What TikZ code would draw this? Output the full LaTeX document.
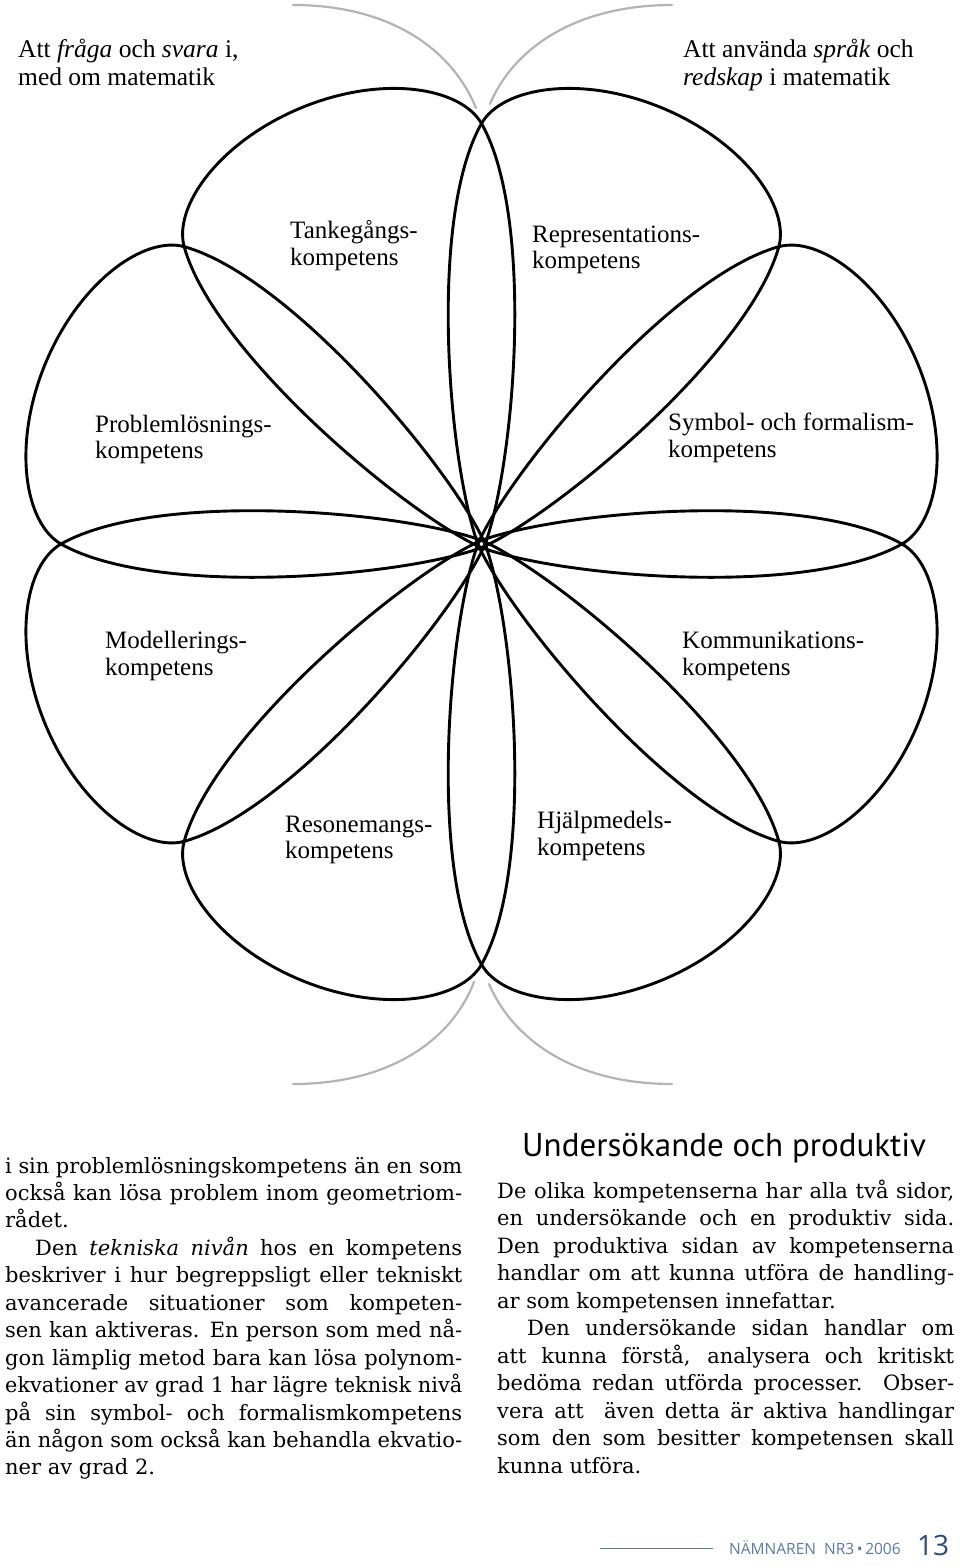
\documentclass[tikz,border=0pt]{standalone}
\usepackage{graphicx}
\usepackage{fontspec}
\setmainfont{Liberation Serif}
\newfontfamily\bodyfont{DejaVu Serif}
\newfontfamily\headfont{PT Sans}
\newfontfamily\footfont{Open Sans}
\definecolor{footblue}{HTML}{5B79A8}
\definecolor{pageblue}{HTML}{2E4A78}
\definecolor{framegray}{HTML}{B4B4B4}
\newsavebox\jlbox
\newcommand\jl[2]{\sbox\jlbox{#2}\ifdim\wd\jlbox>#1\relax\resizebox{#1}{\height}{\usebox\jlbox}\else\makebox[#1][s]{#2}\fi}
\begin{document}
\begin{tikzpicture}[x=1pt,y=-1pt,
  petal/.style={draw=black,line width=2.9pt,line join=round},
  framearc/.style={draw=framegray,line width=2.2pt,line cap=round},
  lab/.style={anchor=base west,inner sep=0pt,font=\fontsize{25}{28}\selectfont},
  corner/.style={anchor=base west,inner sep=0pt,font=\fontsize{25.5}{28}\selectfont},
  body/.style={anchor=base west,inner sep=0pt,font=\bodyfont\fontsize{21}{27}\selectfont},
  head/.style={anchor=base west,inner sep=0pt,font=\headfont\fontsize{33}{36}\selectfont},
  foot/.style={anchor=base west,inner sep=0pt,text=footblue,font=\footfont\fontsize{15.5}{18}\selectfont},
  pagenum/.style={anchor=base west,inner sep=0pt,text=pageblue,font=\footfont\fontsize{28}{30}\selectfont},
  footline/.style={draw=footblue,line width=1pt}]
\useasboundingbox (0,0) rectangle (960,1568);
\fill[white] (0,0) rectangle (960,1568);

% frame arcs
\draw[framearc] (293,5) .. controls (385,5) and (450,45) .. (476,108);
\draw[framearc] (672,5) .. controls (580,5) and (515,45) .. (490,104);
\draw[framearc] (293,1084) .. controls (385,1084) and (450,1044) .. (474,982);
\draw[framearc] (672,1084) .. controls (580,1084) and (515,1044) .. (489,984);

% petals
\foreach \a in {22.5,67.5,...,337.5}{
  \draw[petal,shift={(481.5,544)},rotate=\a]
    (-5,0) .. controls (55,-58) and (278,-174) .. (388,-161)
          .. controls (430,-156) and (472,-88) .. (472,0)
          .. controls (472,88) and (430,156) .. (388,161)
          .. controls (278,174) and (55,58) .. (-5,0) -- cycle;
}

% corner texts
\node[corner] (c1a) at (18,58) {Att \textit{fråga} och \textit{svara} i,};
\node[corner] (c1b) at (18,86) {med om matematik};
\node[corner] (c2a) at (683,58) {Att använda \textit{språk} och};
\node[corner] (c2b) at (683,86) {\textit{redskap} i matematik};

% petal labels
\node[lab] (l1a) at (290,238) {Tankegångs-};
\node[lab] (l1b) at (290,265) {kompetens};
\node[lab] (l2a) at (532,242) {Representations-};
\node[lab] (l2b) at (532,268) {kompetens};
\node[lab] (l3a) at (95,432) {Problemlösnings-};
\node[lab] (l3b) at (95,458) {kompetens};
\node[lab] (l4a) at (668,430) {Symbol- och formalism-};
\node[lab] (l4b) at (668,457) {kompetens};
\node[lab] (l5a) at (105,648) {Modellerings-};
\node[lab] (l5b) at (105,675) {kompetens};
\node[lab] (l6a) at (682,648) {Kommunikations-};
\node[lab] (l6b) at (682,675) {kompetens};
\node[lab] (l7a) at (285,832) {Resonemangs-};
\node[lab] (l7b) at (285,858) {kompetens};
\node[lab] (l8a) at (537,828) {Hjälpmedels-};
\node[lab] (l8b) at (537,855) {kompetens};

% left column
\node[body] (a0) at (5,1173) {\jl{457pt}{i sin problemlösningskompetens än en som}};
\node[body] (a1) at (5,1200.45) {\jl{457pt}{också kan lösa problem inom geometriom-}};
\node[body] (a2) at (5,1227.9) {rådet.};
\node[body] (a3) at (35,1255.35) {\jl{427pt}{Den \textit{tekniska nivån} hos en kompetens}};
\node[body] (a4) at (5,1282.8) {\jl{457pt}{beskriver i hur begreppsligt eller tekniskt}};
\node[body] (a5) at (5,1310.25) {\jl{457pt}{avancerade situationer som kompeten-}};
\node[body] (a6) at (5,1337.7) {\jl{457pt}{sen kan aktiveras. En person som med nå-}};
\node[body] (a7) at (5,1365.15) {\jl{457pt}{gon lämplig metod bara kan lösa polynom-}};
\node[body] (a8) at (5,1392.6) {\jl{457pt}{ekvationer av grad 1 har lägre teknisk nivå}};
\node[body] (a9) at (5,1420.05) {\jl{457pt}{på sin symbol- och formalismkompetens}};
\node[body] (a10) at (5,1447.5) {\jl{457pt}{än någon som också kan behandla ekvatio-}};
\node[body] (a11) at (5,1474.95) {ner av grad 2.};

% right column
\node[head] (h) at (522,1156) {Undersökande och produktiv};
\node[body] (b0) at (497,1198) {\jl{457pt}{De olika kompetenserna har alla två sidor,}};
\node[body] (b1) at (497,1225.5) {\jl{457pt}{en undersökande och en produktiv sida.}};
\node[body] (b2) at (497,1253) {\jl{457pt}{Den produktiva sidan av kompetenserna}};
\node[body] (b3) at (497,1280.5) {\jl{457pt}{handlar om att kunna utföra de handling-}};
\node[body] (b4) at (497,1308) {ar som kompetensen innefattar.};
\node[body] (b5) at (527,1335.5) {\jl{427pt}{Den undersökande sidan handlar om}};
\node[body] (b6) at (497,1363) {\jl{457pt}{att kunna förstå, analysera och kritiskt}};
\node[body] (b7) at (497,1390.5) {\jl{457pt}{bedöma redan utförda processer. Obser-}};
\node[body] (b8) at (497,1418) {\jl{457pt}{vera att\ \ även detta är aktiva handlingar}};
\node[body] (b9) at (497,1445.5) {\jl{457pt}{som den som besitter kompetensen skall}};
\node[body] (b10) at (497,1473) {kunna utföra.};

% footer
\coordinate (fl1) at (600,1548);
\coordinate (fl2) at (713,1548);
\draw[footline] (fl1) -- (fl2);
\node[foot] (ft) at (729,1554) {NÄMNAREN\ \ NR3\,•\,2006};
\node[pagenum] (pn) at (917,1555) {13};
\end{tikzpicture}
\end{document}
